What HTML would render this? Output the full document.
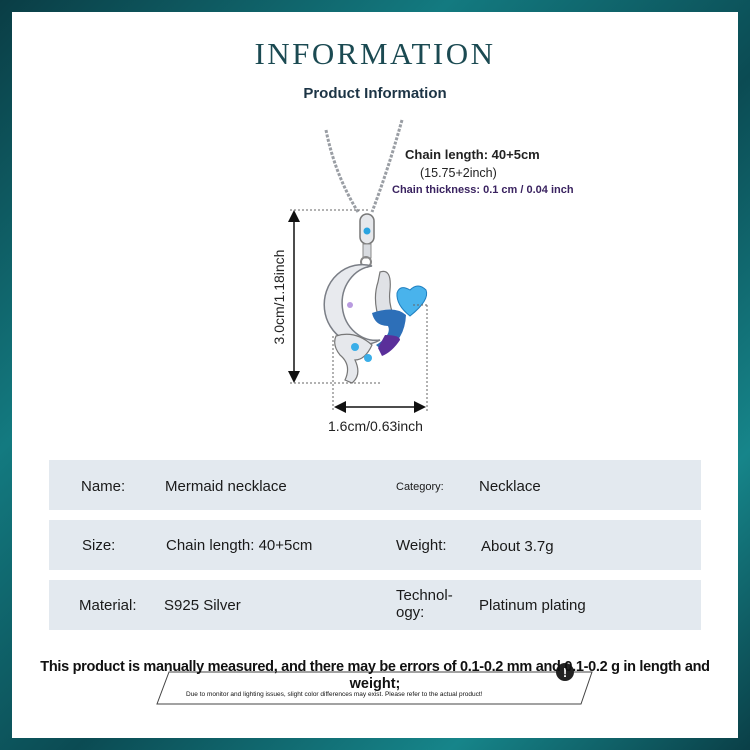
<!DOCTYPE html>
<html><head><meta charset="utf-8"><style>
body{margin:0;width:750px;height:750px;overflow:hidden;background:#0d4a52;font-family:"Liberation Sans",sans-serif;}
.bg{position:absolute;left:0;top:0;width:750px;height:750px;background:linear-gradient(135deg,#0a3d45 0%,#137a80 30%,#0b4b53 55%,#16858a 80%,#0a3f47 100%);}
.panel{position:absolute;left:12px;top:12px;width:726px;height:726px;background:#fff;}
.t{position:absolute;white-space:nowrap;}
.row{position:absolute;left:49px;width:652px;height:50px;background:#e3e9ef;}
.row .t{font-size:15px;color:#1a1a1a;}
</style></head><body>
<div class="bg"></div>
<div class="panel"></div>
<div class="t" style="left:0;width:750px;text-align:center;top:36px;font-family:'Liberation Serif',serif;font-size:31px;letter-spacing:2.5px;color:#1b4a52;">INFORMATION</div>
<div class="t" style="left:0;width:750px;text-align:center;top:85px;font-size:15px;font-weight:bold;color:#1c3445;">Product Information</div>

<svg style="position:absolute;left:0;top:0" width="750" height="750">
<path d="M326 130 Q335 175 358 212" stroke="#9a9ea4" stroke-width="3" fill="none" stroke-dasharray="3 1.5"/>
<path d="M402 120 Q388 170 372 212" stroke="#9a9ea4" stroke-width="3" fill="none" stroke-dasharray="3 1.5"/>
<rect x="360" y="214" width="14" height="30" rx="7" fill="#e6e8ec" stroke="#777" stroke-width="1.5"/>
<circle cx="367" cy="231" r="3.5" fill="#29a3e0"/>
<rect x="363" y="244" width="8" height="14" fill="#d8dbe0" stroke="#888" stroke-width="1"/>
<circle cx="366" cy="262" r="5" fill="none" stroke="#888" stroke-width="2"/>
<path d="M372 266 A38 40 0 1 0 380 340 A30 33 0 1 1 372 266Z" fill="#e8eaee" stroke="#7a7e86" stroke-width="1.5"/>
<circle cx="350" cy="305" r="3" fill="#b99be0"/>
<path d="M380 272 Q392 268 390 290 Q388 305 395 318 L380 322 Q372 300 378 282Z" fill="#e0e2e6" stroke="#777" stroke-width="1.2"/>
<path d="M372 313 Q395 305 406 315 Q405 340 384 352 L376 345 Q392 335 388 326 Q375 326 372 313Z" fill="#2d6fb8"/>
<path d="M385 335 Q400 335 400 340 Q392 352 382 356 L378 348Z" fill="#5a2f9a"/>
<path d="M336 336 Q355 330 372 345 Q365 360 355 360 Q362 375 352 383 L345 380 Q352 365 340 355 Q332 345 336 336Z" fill="#e6e8ec" stroke="#777" stroke-width="1.2"/>
<circle cx="355" cy="347" r="4" fill="#3aaee8"/>
<circle cx="368" cy="358" r="4" fill="#3aaee8"/>
<path d="M410 316 Q396 305 397 293 Q400 284 410 290 Q418 282 426 290 Q430 300 410 316Z" fill="#49b3ec" stroke="#1f7fc0" stroke-width="1"/>
<g stroke="#666" stroke-width="1" stroke-dasharray="2 2" fill="none">
<line x1="290" y1="210" x2="368" y2="210"/>
<line x1="290" y1="383" x2="382" y2="383"/>
<line x1="333" y1="336" x2="333" y2="412"/>
<line x1="427" y1="305" x2="427" y2="412"/>
<line x1="413" y1="305" x2="427" y2="305"/>
</g>
<line x1="294" y1="220" x2="294" y2="373" stroke="#111" stroke-width="1.5"/>
<polygon points="294,210 288,222 300,222" fill="#111"/>
<polygon points="294,383 288,371 300,371" fill="#111"/>
<line x1="343" y1="407" x2="416" y2="407" stroke="#111" stroke-width="1.5"/>
<polygon points="334,407 346,401 346,413" fill="#111"/>
<polygon points="426,407 414,401 414,413" fill="#111"/>
<text x="284" y="297" transform="rotate(-90 284 297)" text-anchor="middle" font-family="Liberation Sans" font-size="14" fill="#222">3.0cm/1.18inch</text>
<polygon points="169,672 592,672 581,704 157,704" fill="#fff" stroke="#444" stroke-width="1"/>
<circle cx="565" cy="672" r="9" fill="#222"/>
<text x="565" y="677" text-anchor="middle" font-family="Liberation Sans" font-weight="bold" font-size="13" fill="#fff">!</text>
</svg>

<div class="t" style="left:405px;top:147px;font-size:13px;font-weight:bold;color:#222;">Chain length: 40+5cm</div>
<div class="t" style="left:420px;top:166px;font-size:12.5px;color:#222;">(15.75+2inch)</div>
<div class="t" style="left:392px;top:184px;font-size:11px;font-weight:bold;color:#3a2360;">Chain thickness: 0.1 cm / 0.04 inch</div>
<div class="t" style="left:328px;top:418px;font-size:14px;color:#222;">1.6cm/0.63inch</div>

<div class="row" style="top:460px">
<div class="t" style="left:32px;top:18px;">Name:</div>
<div class="t" style="left:116px;top:18px;">Mermaid necklace</div>
<div class="t" style="left:347px;top:21px;font-size:11px;">Category:</div>
<div class="t" style="left:430px;top:18px;">Necklace</div>
</div>
<div class="row" style="top:520px">
<div class="t" style="left:33px;top:17px;">Size:</div>
<div class="t" style="left:117px;top:17px;">Chain length: 40+5cm</div>
<div class="t" style="left:347px;top:17px;">Weight:</div>
<div class="t" style="left:432px;top:18px;">About 3.7g</div>
</div>
<div class="row" style="top:580px">
<div class="t" style="left:30px;top:17px;">Material:</div>
<div class="t" style="left:115px;top:17px;">S925 Silver</div>
<div class="t" style="left:347px;top:7px;line-height:17px;">Technol-<br>ogy:</div>
<div class="t" style="left:430px;top:17px;">Platinum plating</div>
</div>

<div class="t" style="left:0;width:750px;text-align:center;top:659px;font-size:14.5px;font-weight:bold;color:#111;letter-spacing:-0.3px;">This product is manually measured, and there may be errors of 0.1-0.2 mm and 0.1-0.2 g in length and</div>
<div class="t" style="left:0;width:750px;text-align:center;top:676px;font-size:14.5px;font-weight:bold;color:#111;">weight;</div>
<div class="t" style="left:186px;top:691px;font-size:6.5px;color:#111;">Due to monitor and lighting issues, slight color differences may exist. Please refer to the actual product!</div>
</body></html>
